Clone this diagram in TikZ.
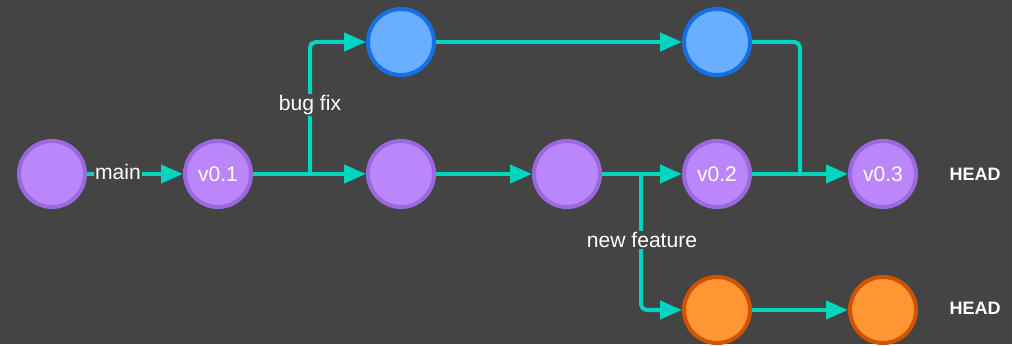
\documentclass[tikz,border=0pt]{standalone}
\usepackage{fontspec}
\setmainfont{Liberation Sans}
\usetikzlibrary{arrows.meta}
\definecolor{bg}{HTML}{444444}
\definecolor{link}{HTML}{00D5C2}
\definecolor{mainfill}{HTML}{BB86FA}
\definecolor{mainline}{HTML}{9A68E0}
\definecolor{fixfill}{HTML}{6AAEFF}
\definecolor{fixline}{HTML}{1570E6}
\definecolor{featfill}{HTML}{FF9633}
\definecolor{featline}{HTML}{CF5300}
\begin{document}
\begin{tikzpicture}[x=0.025cm, y=-0.025cm,
    commit/.style={circle, line width=2.85pt, minimum size=1.65cm, inner sep=0pt,
      text=white, font=\fontsize{15}{18}\selectfont},
    maincommit/.style={commit, fill=mainfill, draw=mainline},
    fixcommit/.style={commit, fill=fixfill, draw=fixline},
    featcommit/.style={commit, fill=featfill, draw=featline},
    link/.style={draw=link, line width=2.85pt, rounded corners=4pt},
    tip/.style={link, -{Triangle[length=15.6pt, width=12.8pt]}},
    branchlabel/.style={fill=bg, text=white, inner sep=1pt, font=\fontsize{15}{18}\selectfont},
    headlabel/.style={text=white, font=\fontsize{12.8}{15}\selectfont\bfseries}]
  \fill[bg] (0,0) rectangle (1012,344);
  % commits
  \node[maincommit] (c0) at (52,174) {};
  \node[maincommit] (v01) at (218,174) {v0.1};
  \node[maincommit] (c2) at (401,174) {};
  \node[maincommit] (c3) at (567,174) {};
  \node[maincommit] (v02) at (717,174) {v0.2};
  \node[maincommit] (v03) at (883,174) {v0.3};
  \node[fixcommit] (f1) at (401,42) {};
  \node[fixcommit] (f2) at (717,42) {};
  \node[featcommit] (n1) at (717,310) {};
  \node[featcommit] (n2) at (883,310) {};
  \node[headlabel] (head1) at (975,174) {HEAD};
  \node[headlabel] (head2) at (975,308) {HEAD};
  % forks and joins
  \coordinate (fixfork) at (310,174);
  \coordinate (featfork) at (641,174);
  \coordinate (fixjoin) at (800,174);
  % main line
  \draw[tip] (c0) -- (v01);
  \draw[tip] (v01) -- (c2);
  \draw[tip] (c2) -- (c3);
  \draw[tip] (c3) -- (v02);
  \draw[tip] (v02) -- (v03);
  % bug fix branch
  \draw[tip] (fixfork) |- (f1);
  \draw[tip] (f1) -- (f2);
  \draw[link] (f2) -| (fixjoin);
  % new feature branch
  \draw[tip] (featfork) |- (n1);
  \draw[tip] (n1) -- (n2);
  % labels
  \node[branchlabel] (mainlbl) at (118,172) {main};
  \node[branchlabel] (fixlbl) at (310,105) {bug fix};
  \node[branchlabel] (featlbl) at (642,240) {new feature};
\end{tikzpicture}
\end{document}
